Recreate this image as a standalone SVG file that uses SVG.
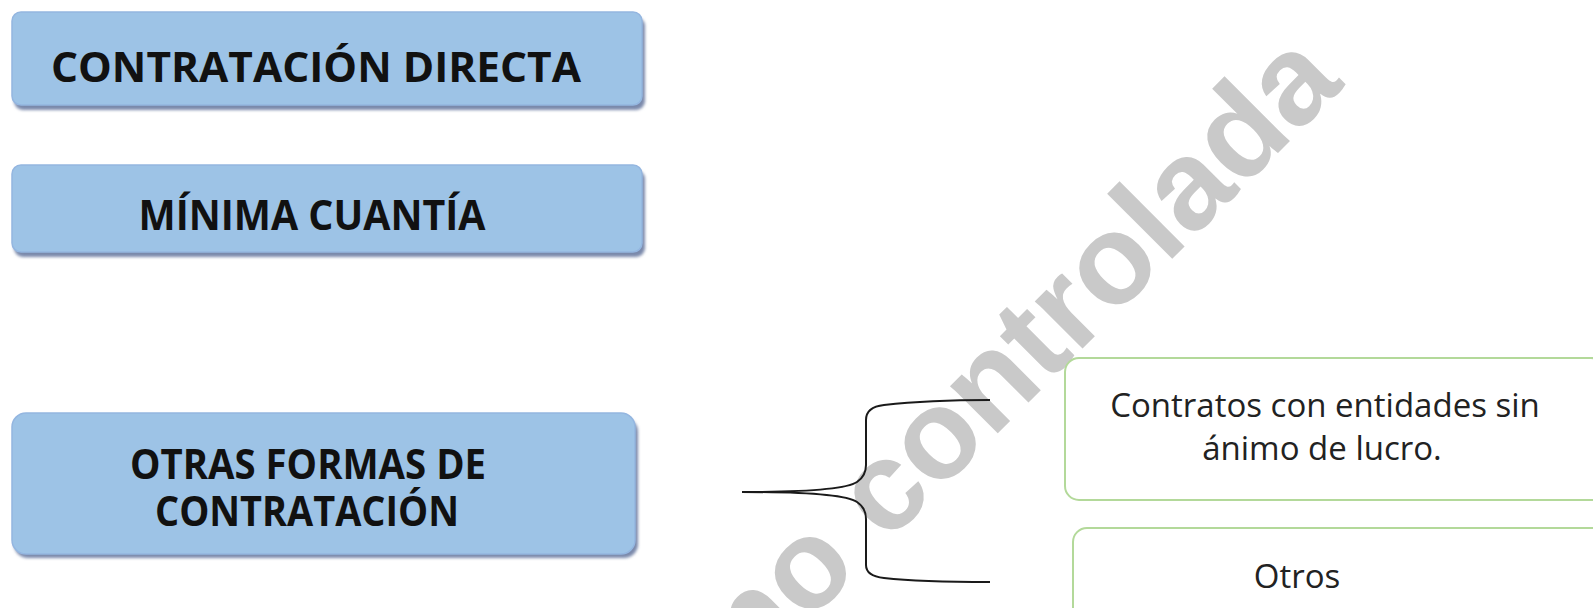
<svg xmlns="http://www.w3.org/2000/svg" width="1593" height="608" viewBox="0 0 1593 608">
<style>
.blue{fill:#9dc3e6;stroke:#94b6e0;stroke-width:1.5}
.shadow{fill:#7a89ab;filter:url(#blur)}
.green{fill:#ffffff;stroke:#b3d99a;stroke-width:2}
.bt{font-family:"Open Sans","Liberation Sans",sans-serif;font-weight:bold;font-size:41px;fill:#111;text-anchor:middle}
.rt{font-family:"Open Sans","Liberation Sans",sans-serif;font-size:33px;fill:#222;text-anchor:middle}
.wm{font-family:"Liberation Sans",Arial,sans-serif;font-weight:bold;font-size:127px;fill:#c9c9c9}
.br{fill:none;stroke:#1a1a1a;stroke-width:2}
</style>
<defs>
<filter id="blur" x="-5%" y="-20%" width="110%" height="140%"><feGaussianBlur stdDeviation="1.5"/></filter>
</defs>
<rect width="1593" height="608" fill="#ffffff"/>
<text class="wm" x="752" y="679" transform="rotate(-45 752 679)">no controlada</text>
<g id="node-contratacion-directa">
<rect class="shadow" x="14" y="17" width="631" height="93" rx="9"/>
<rect class="blue" x="12" y="12" width="630" height="93" rx="9"/>
<text class="bt" x="316" y="82" textLength="530" lengthAdjust="spacingAndGlyphs">CONTRATACIÓN DIRECTA</text>
</g>
<g id="node-minima-cuantia">
<rect class="shadow" x="14" y="170" width="631" height="87" rx="9"/>
<rect class="blue" x="12" y="165" width="630" height="87" rx="9"/>
<text class="bt" x="312" y="230" textLength="347" lengthAdjust="spacingAndGlyphs">MÍNIMA CUANTÍA</text>
</g>
<g id="node-otras-formas">
<rect class="shadow" x="14" y="418" width="624" height="140" rx="14"/>
<rect class="blue" x="12" y="413" width="623" height="141" rx="14"/>
<text class="bt" x="308" y="479" textLength="356" lengthAdjust="spacingAndGlyphs">OTRAS FORMAS DE</text>
<text class="bt" x="307" y="526" textLength="304" lengthAdjust="spacingAndGlyphs">CONTRATACIÓN</text>
</g>
<g id="connectors">
<path class="br" d="M742,492 C810,492 848,488 857,482 Q866,476 866,465 L866,420 Q866,407 884,405 C920,401 960,400 990,400"/>
<path class="br" d="M742,492 C810,492 848,496 857,502 Q866,508 866,519 L866,565 Q866,576 884,578 C920,582 960,582 990,582"/>
</g>
<g id="node-sin-animo">
<rect class="green" x="1065" y="358" width="540" height="142" rx="14"/>
<text class="rt" x="1325" y="417">Contratos con entidades sin</text>
<text class="rt" x="1322" y="460">ánimo de lucro.</text>
</g>
<g id="node-otros">
<rect class="green" x="1073" y="528" width="540" height="120" rx="14"/>
<text class="rt" x="1297" y="588">Otros</text>
</g>
</svg>
